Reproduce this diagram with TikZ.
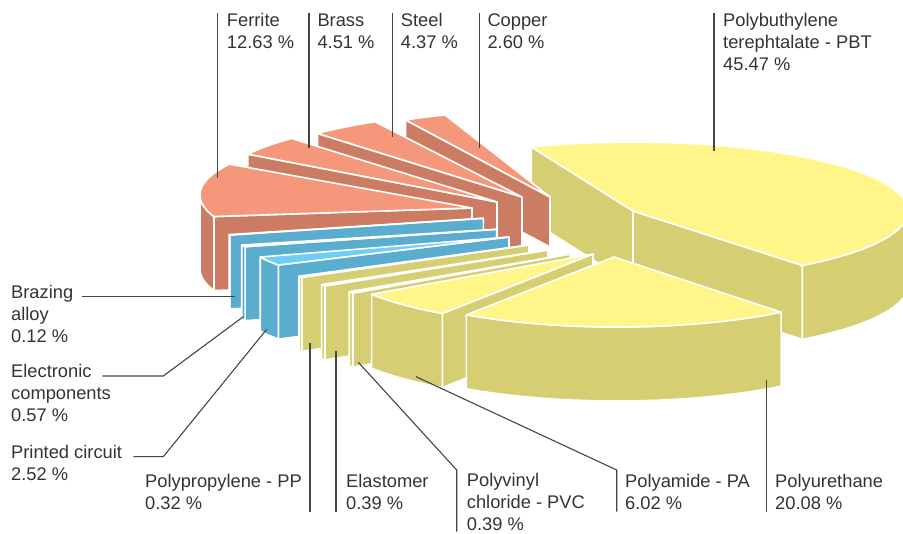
\documentclass[tikz,border=0pt]{standalone}
\usepackage{fontspec}
\setmainfont{Liberation Sans}
\definecolor{mtop}{HTML}{F4977A}
\definecolor{mside}{HTML}{CC7C63}
\definecolor{btop}{HTML}{6ECEF5}
\definecolor{bside}{HTML}{5BADCF}
\definecolor{ytop}{HTML}{FFF588}
\definecolor{yside}{HTML}{D6CE72}
\definecolor{txt}{HTML}{333333}
\definecolor{leadc}{HTML}{444444}
\tikzset{
  face/.style={draw=white, line width=1.6pt, line join=round},
  lab/.style={anchor=base west, inner sep=0pt, align=left, text=txt, font=\fontsize{18.3}{22}\selectfont},
  lead/.style={draw=leadc, line width=1.1pt},
}
\def\hh{74}
\newcommand\slicedef[8]{\def\slOx{#1}\def\slOy{#2}\def\slRx{#3}\def\slRy{#4}\def\slSa{#5}\def\slSb{#6}\def\slAx{#7}\def\slAy{#8}}
\newcommand\cutface[2]{\path[face, fill=#1] ({\slOx+\slRx*cos(#2)},{\slOy-\slRy*sin(#2)}) -- ({\slAx},{\slAy}) -- ({\slAx},{\slAy+\hh}) -- ({\slOx+\slRx*cos(#2)},{\slOy-\slRy*sin(#2)+\hh}) -- cycle;}
\newcommand\outerface[3]{\path[face, fill=#1] plot[domain=#2:#3, samples=50] ({\slOx+\slRx*cos(\x)},{\slOy-\slRy*sin(\x)}) -- plot[domain=#3:#2, samples=50] ({\slOx+\slRx*cos(\x)},{\slOy-\slRy*sin(\x)+\hh}) -- cycle;}
\newcommand\topface[1]{\path[face, fill=#1] ({\slAx},{\slAy}) -- plot[domain=\slSa:\slSb, samples=60] ({\slOx+\slRx*cos(\x)},{\slOy-\slRy*sin(\x)}) -- cycle;}
\begin{document}
\begin{tikzpicture}[x=1pt,y=-1pt]
\path[use as bounding box] (0,0) rectangle (903,534);
\begin{scope}
\clip (0,0) rectangle (903,534);
% PBT
\slicedef{633}{211}{275}{69}{-52}{111.69}{633}{211}
\cutface{yside}{\slSa}\cutface{yside}{\slSb}\outerface{yside}{-52}{0}\topface{ytop}
% Copper
\def\hh{50}
\slicedef{544.8}{178.2}{270}{68}{111.69}{121.05}{550}{197}
\cutface{mside}{\slSb}\topface{mtop}
\def\hh{74}
% Steel
\slicedef{514.3}{180}{270}{68}{121.05}{136.78}{522}{197}
\cutface{mside}{\slSb}\topface{mtop}
% Brass
\slicedef{488.5}{185}{270}{68}{136.78}{153.02}{497}{202}
\cutface{mside}{\slSb}\topface{mtop}
% Ferrite
\slicedef{470}{195}{270}{68}{153.02}{198.49}{472}{208}
\cutface{mside}{\slSb}\outerface{mside}{180}{198.49}\topface{mtop}
% Brazing alloy
\slicedef{483.3}{218.3}{268}{51.5}{198.49}{198.92}{483.3}{218.3}
\cutface{bside}{\slSb}\outerface{bside}{\slSa}{\slSb}\topface{btop}
% Electronic components
\slicedef{496.7}{229.3}{269.5}{48.6}{198.92}{200.97}{496.7}{229.3}
\cutface{bside}{\slSb}\outerface{bside}{\slSa}{\slSb}\topface{btop}
% Printed circuit
\slicedef{509}{237}{266.4}{56}{200.97}{210.04}{509}{237}
\cutface{bside}{\slSb}\outerface{bside}{\slSa}{\slSb}\topface{btop}
% Polypropylene
\slicedef{529}{245}{265.7}{62.4}{210.04}{211.19}{529}{245}
\cutface{yside}{\slSb}\outerface{yside}{\slSa}{\slSb}\topface{ytop}
% Elastomer
\slicedef{548}{250}{264.7}{66.8}{211.19}{212.59}{548}{250}
\cutface{yside}{\slSb}\outerface{yside}{\slSa}{\slSb}\topface{ytop}
% PVC
\slicedef{570}{254}{262}{70}{212.59}{213.99}{570}{254}
\cutface{yside}{\slSb}\outerface{yside}{\slSa}{\slSb}\topface{ytop}
% Polyamide
\slicedef{593}{254}{267}{72}{213.99}{235.66}{593}{254}
\cutface{yside}{\slSb}\outerface{yside}{\slSa}{\slSb}\topface{ytop}
% Polyurethane
\slicedef{617}{257}{267}{70}{235.66}{307.95}{614}{257}
\outerface{yside}{\slSa}{\slSb}\topface{ytop}
\end{scope}
% leader end points
\coordinate (fe0) at (217.3,13);   \coordinate (fe1) at (217.3,178);
\coordinate (br0) at (309,13);     \coordinate (br1) at (309,148);
\coordinate (st0) at (392.3,13);   \coordinate (st1) at (392.3,137);
\coordinate (cu0) at (479.3,13);   \coordinate (cu1) at (479.3,147.7);
\coordinate (pb0) at (714,13);     \coordinate (pb1) at (714,151);
\coordinate (bz0) at (81.7,296.7); \coordinate (bz1) at (235,296.7);
\coordinate (ec0) at (102.7,376);  \coordinate (ec1) at (163.3,376);  \coordinate (ec2) at (243.3,316.7);
\coordinate (pc0) at (133.3,456.7);\coordinate (pc1) at (163.3,456.7);\coordinate (pc2) at (266.7,329.3);
\coordinate (pp0) at (310,511.7);  \coordinate (pp1) at (310,342.7);
\coordinate (el0) at (336,511.7);  \coordinate (el1) at (336,350.7);
\coordinate (pv0) at (456.7,531.7);\coordinate (pv1) at (456.7,470);  \coordinate (pv2) at (358.3,362.3);
\coordinate (pa0) at (616.7,511.7);\coordinate (pa1) at (616.7,470);  \coordinate (pa2) at (416,376.7);
\coordinate (pu0) at (766.7,511.7);\coordinate (pu1) at (766.7,380);
\draw[lead] (fe0) -- (fe1);
\draw[lead] (br0) -- (br1);
\draw[lead] (st0) -- (st1);
\draw[lead] (cu0) -- (cu1);
\draw[lead] (pb0) -- (pb1);
\draw[lead] (bz0) -- (bz1);
\draw[lead] (ec0) -- (ec1) -- (ec2);
\draw[lead] (pc0) -- (pc1) -- (pc2);
\draw[lead] (pp0) -- (pp1);
\draw[lead] (el0) -- (el1);
\draw[lead] (pv0) -- (pv1) -- (pv2);
\draw[lead] (pa0) -- (pa1) -- (pa2);
\draw[lead] (pu0) -- (pu1);
% labels (anchor = baseline of the last line)
\node[lab] (tfe) at (226.7,48.3) {Ferrite\\12.63 \%};
\node[lab] (tbr) at (317.3,48.3) {Brass\\4.51 \%};
\node[lab] (tst) at (400.7,48.3) {Steel\\4.37 \%};
\node[lab] (tcu) at (487.3,48.3) {Copper\\2.60 \%};
\node[lab] (tpb) at (723,70.5) {Polybuthylene\\terephtalate - PBT\\45.47 \%};
\node[lab] (tbz) at (11,342.7) {Brazing\\alloy\\0.12 \%};
\node[lab] (tec) at (11,421.7) {Electronic\\components\\0.57 \%};
\node[lab] (tpc) at (11,480.7) {Printed circuit\\2.52 \%};
\node[lab] (tpp) at (145,509.2) {Polypropylene - PP\\0.32 \%};
\node[lab] (tel) at (346,509.2) {Elastomer\\0.39 \%};
\node[lab] (tpv) at (466.7,531) {Polyvinyl\\chloride - PVC\\0.39 \%};
\node[lab] (tpa) at (625,509.2) {Polyamide - PA\\6.02 \%};
\node[lab] (tpu) at (775,509.2) {Polyurethane\\20.08 \%};
\end{tikzpicture}
\end{document}
